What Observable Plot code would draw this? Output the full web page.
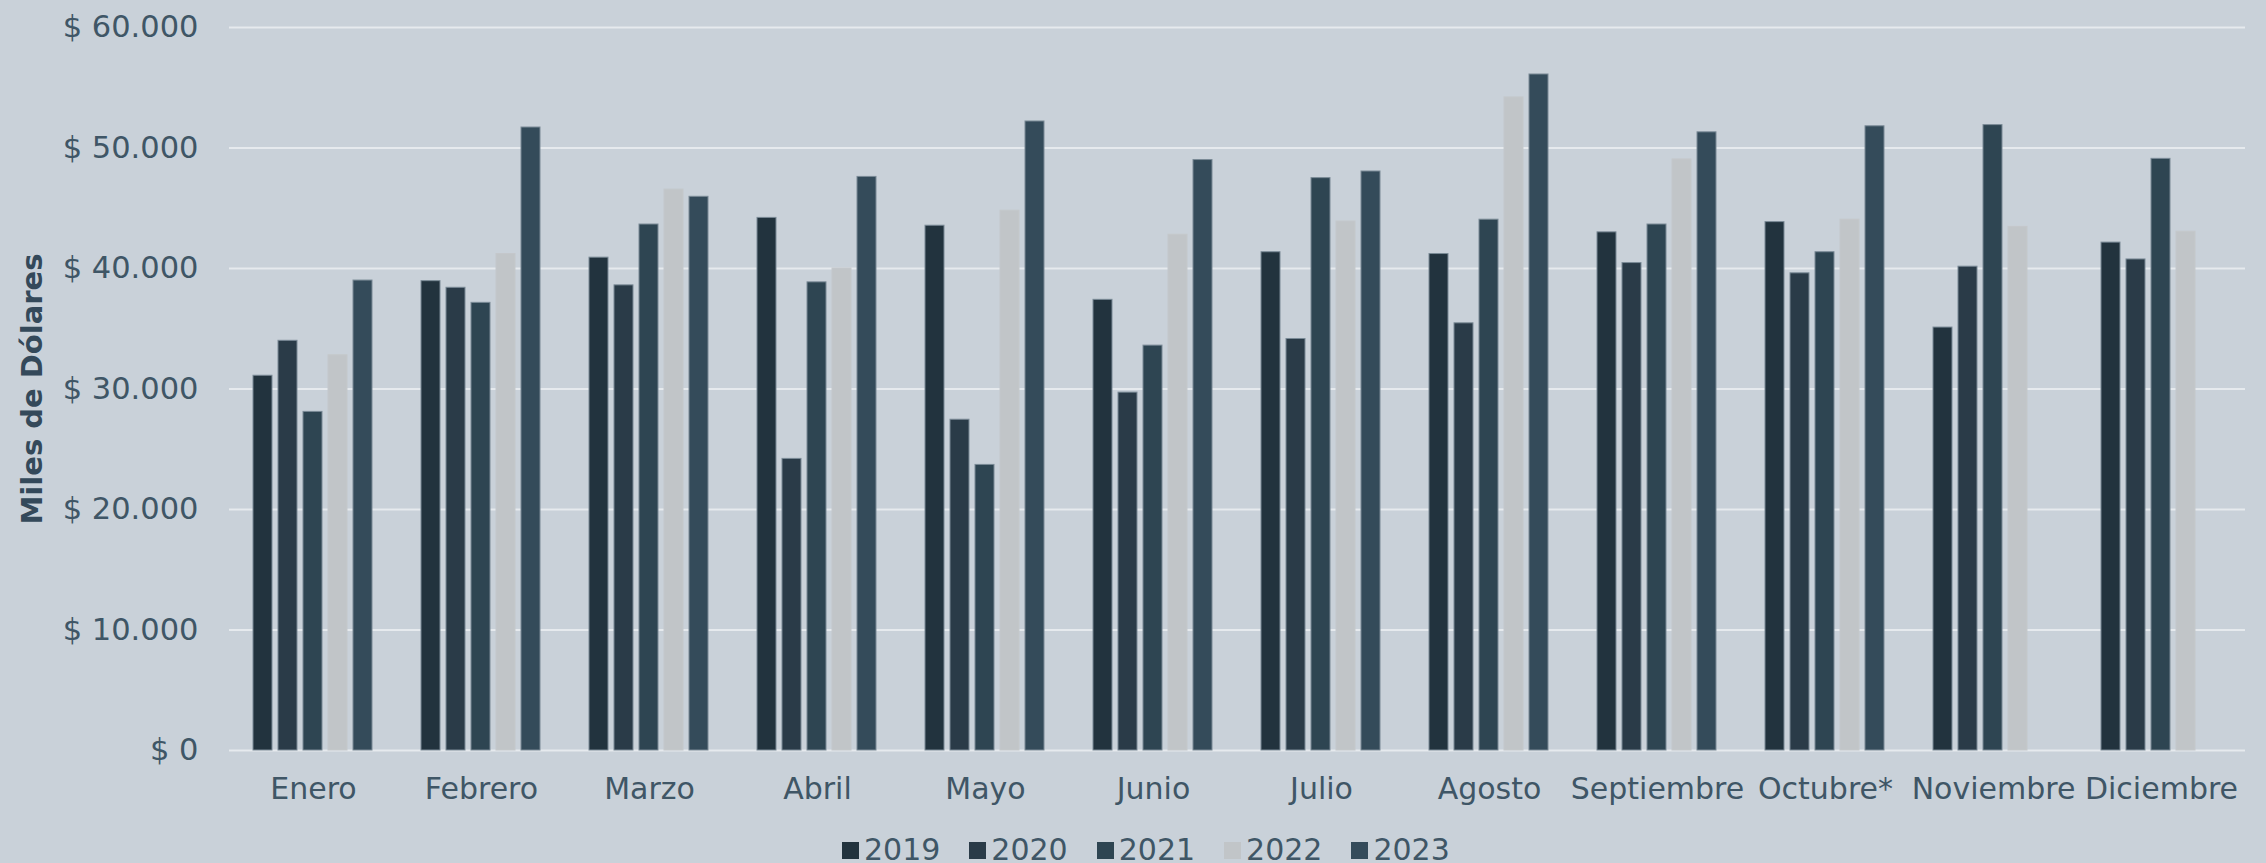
<!DOCTYPE html>
<html>
<head>
<meta charset="utf-8">
<script src="https://cdn.jsdelivr.net/npm/d3@7"></script>
<script src="https://cdn.jsdelivr.net/npm/@observablehq/plot@0.6"></script>
<style>
  html, body { margin: 0; padding: 0; background: #c9d1d9; overflow: hidden; }
  #wrap { position: relative; width: 2266px; height: 863px; background: #c9d1d9; font-family: "DejaVu Sans", sans-serif; }
  #legend { position: absolute; left: 842px; top: 835px; height: 30px; display: flex; align-items: center; gap: 29px; color: #3f5666; font-size: 30px; line-height: 30px; }
  .item { display: flex; align-items: center; gap: 5px; }
  .sw { width: 17px; height: 17px; display: inline-block; }
</style>
</head>
<body>
<div id="wrap"><div id="chart"></div><div id="legend"></div></div>
<script>
const months = ["Enero","Febrero","Marzo","Abril","Mayo","Junio","Julio","Agosto","Septiembre","Octubre*","Noviembre","Diciembre"];
const years = ["2019","2020","2021","2022","2023"];
const v2019 = [31100, 38950, 40900, 44200, 43550, 37400, 41350, 41200, 43000, 43850, 35100, 42150];
const v2020 = [34000, 38400, 38600, 24200, 27450, 29700, 34150, 35450, 40450, 39600, 40150, 40750];
const v2021 = [28100, 37150, 43650, 38850, 23700, 33600, 47500, 44050, 43650, 41350, 51900, 49100];
const v2022 = [32800, 41200, 46550, 40000, 44800, 42800, 43900, 54200, 49050, 44050, 43450, 43050];
const v2023 = [39000, 51700, 45950, 47600, 52200, 49000, 48050, 56100, 51300, 51800, null, null];
const yTicks = [0, 10000, 20000, 30000, 40000, 50000, 60000];
const yDomain = [0, 60000];
const yTitle = ["Miles de Dólares"];
const colors = ["#22333e", "#2a3b48", "#2e4552", "#c1c5c8", "#344b5a"];

const series = [v2019, v2020, v2021, v2022, v2023];
const data = [];
months.forEach((m, i) => years.forEach((y, j) => {
  const v = series[j][i];
  if (v != null) data.push({month: m, year: y, value: v});
}));

const fmt = d => "$ " + d3.format(",")(d).replace(/,/g, ".");

const chart = Plot.plot({
  width: 2266,
  height: 815,
  marginLeft: 226,
  marginRight: 19,
  marginTop: 27,
  marginBottom: 65,
  style: {background: "#c9d1d9", color: "#3f5666", fontFamily: "DejaVu Sans, sans-serif"},
  fx: {domain: months, padding: 0, label: null},
  x: {domain: years, paddingInner: 0.228, paddingOuter: 0.865, axis: null},
  y: {domain: yDomain, label: null},
  color: {domain: years, range: colors},
  marks: [
    Plot.gridY(yTicks, {stroke: "#e6eaee", strokeWidth: 2, strokeOpacity: 1}),
    Plot.barY(data, {fx: "month", x: "year", y: "value", fill: "year",
      stroke: d => d.year === "2022" ? "#c4c8cb" : "#7a8a96", strokeWidth: 1}),
    Plot.axisY(yTicks, {tickSize: 0, tickPadding: 31, fontSize: 30.5, tickFormat: fmt, label: null}),
    Plot.axisFx({anchor: "bottom", tickSize: 0, tickPadding: 27, fontSize: 30, label: null}),
    Plot.text(yTitle, {text: d => d, fx: () => months[0], y: () => d3.mean(yDomain),
      frameAnchor: "left", textAnchor: "middle", dx: -197, rotate: -90,
      fontSize: 29, fontWeight: "bold", fill: "#34495a"})
  ]
});
document.getElementById("chart").appendChild(chart);

const legend = document.getElementById("legend");
years.forEach((y, i) => {
  const item = document.createElement("div");
  item.className = "item";
  const sw = document.createElement("span");
  sw.className = "sw";
  sw.style.background = colors[i];
  const t = document.createElement("span");
  t.textContent = y;
  item.appendChild(sw);
  item.appendChild(t);
  legend.appendChild(item);
});
</script>
</body>
</html>
